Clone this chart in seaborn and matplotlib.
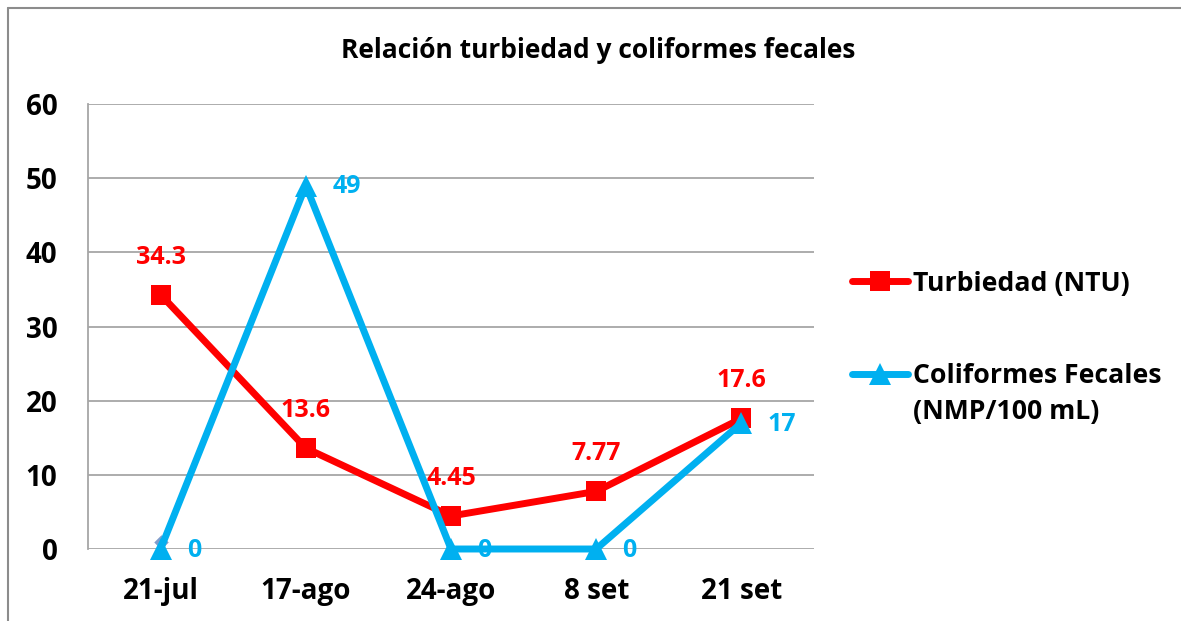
import matplotlib
matplotlib.use("Agg")
import matplotlib.pyplot as plt
import seaborn as sns
from matplotlib.lines import Line2D

sns.set_theme(style="white")
plt.rcParams['font.family'] = ['Open Sans', 'DejaVu Sans']
plt.rcParams['font.weight'] = 'bold'
plt.rcParams['text.color'] = 'black'

fechas = ["21-jul", "17-ago", "24-ago", "8 set", "21 set"]
turbiedad = [34.3, 13.6, 4.45, 7.77, 17.6]
coliformes = [0, 49, 0, 0, 17]
serie_oculta = [1.0]
etiquetas_turb = ["34.3", "13.6", "4.45", "7.77", "17.6"]
etiquetas_coli = ["0", "49", "0", "0", "17"]

ROJO = "#FF0000"
AZUL = "#00B0F0"

fig = plt.figure(figsize=(11.81, 6.21), dpi=100)
ax = fig.add_axes([88 / 1181, 1 - 549 / 621, (814 - 88) / 1181, (549 - 104) / 621])

sns.lineplot(x=fechas[:1], y=serie_oculta, ax=ax, marker="D", markersize=8,
             color="#7F9CCB", linestyle="none", zorder=2, clip_on=False)
sns.lineplot(x=fechas, y=turbiedad, ax=ax, color=ROJO, linewidth=5,
             marker="s", markersize=14, markeredgewidth=0,
             label="Turbiedad (NTU)", zorder=3, clip_on=False)
sns.lineplot(x=fechas, y=coliformes, ax=ax, color=AZUL, linewidth=5,
             marker="^", markersize=16, markeredgewidth=0,
             label="Coliformes Fecales", zorder=4, clip_on=False)

for i, (v, t) in enumerate(zip(turbiedad, etiquetas_turb)):
    ax.annotate(t, (i, v), xytext=(0, 27), textcoords="offset points",
                ha="center", va="center", color=ROJO, fontsize=18, fontweight="bold")
for i, (v, t) in enumerate(zip(coliformes, etiquetas_coli)):
    ax.annotate(t, (i, v), xytext=(19, -1), textcoords="offset points",
                ha="left", va="center", color=AZUL, fontsize=18, fontweight="bold")

ax.set_xlim(-0.5, 4.5)
ax.set_ylim(0, 60)
ax.set_yticks(range(0, 61, 10))
ax.yaxis.grid(True, color="#A6A6A6", linewidth=1.3)
ax.xaxis.grid(False)
for s in ["top", "right", "bottom"]:
    ax.spines[s].set_visible(False)
ax.spines["left"].set_color("#A6A6A6")
ax.spines["left"].set_linewidth(1.3)
ax.tick_params(axis="both", length=0, labelsize=20)
for lbl in ax.get_xticklabels() + ax.get_yticklabels():
    lbl.set_fontweight("bold")
    lbl.set_color("black")
ax.tick_params(axis="x", pad=20)
ax.tick_params(axis="y", pad=22)
ax.set_xlabel("")
ax.set_ylabel("")

fig.text(598 / 1181, 1 - 50 / 621, "Relación turbiedad y coliformes fecales",
         ha="center", va="center", fontsize=19, fontweight="bold")

handles, labels = ax.get_legend_handles_labels()
ax.get_legend().remove()
leg = fig.legend(handles, labels, loc="center left", bbox_to_anchor=(852 / 1181, 1 - 330 / 621),
                 frameon=False, handlelength=2.1, handletextpad=0.2, borderpad=0,
                 borderaxespad=0, labelspacing=2.5, prop={"weight": "bold", "size": 19.2})

fig.canvas.draw()
bb = leg.get_texts()[1].get_window_extent()
fig.text(bb.x0 / 1181, (bb.y0 + bb.y1) / 2 / 621 - 36 / 621, "(NMP/100 mL)",
         ha="left", va="center", fontsize=19.2, fontweight="bold")

fig.add_artist(Line2D([8 / 1181, 8 / 1181], [0, 1 - 8 / 621], transform=fig.transFigure,
                      color="#8C8C8C", linewidth=1.5))
fig.add_artist(Line2D([8 / 1181, 1], [1 - 8 / 621, 1 - 8 / 621], transform=fig.transFigure,
                      color="#8C8C8C", linewidth=1.5))

fig.savefig("out.png", dpi=100, facecolor="white")
